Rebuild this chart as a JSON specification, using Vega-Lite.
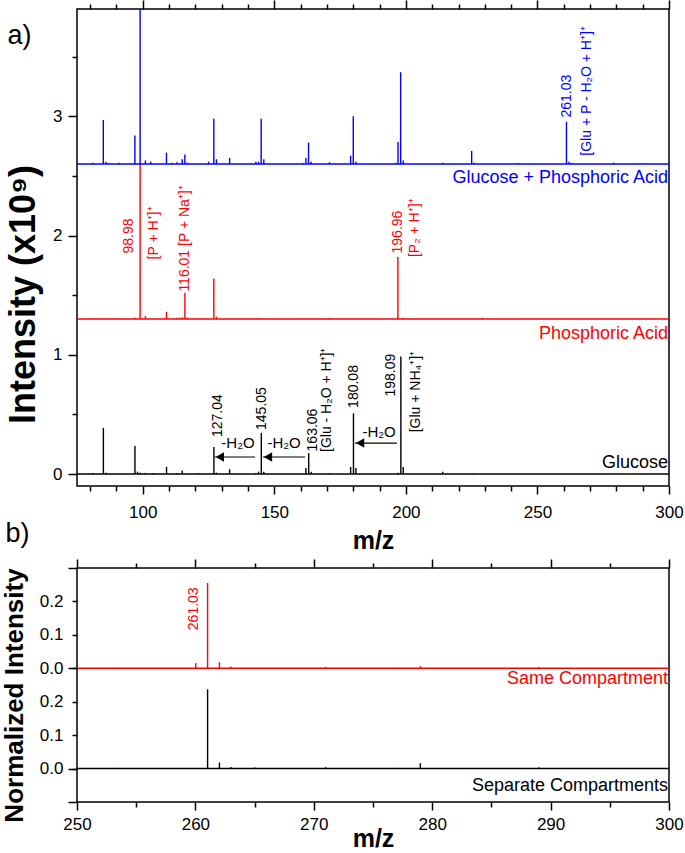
{
  "$schema": "https://vega.github.io/schema/vega-lite/v6.json",
  "padding": {"left": 0, "top": -2, "right": 5, "bottom": 0},
  "bounds": "flush",
  "spacing": 82,
  "config": {
    "font": "Liberation Sans",
    "view": {"stroke": "black", "strokeWidth": 1.5},
    "axis": {"domain": false, "grid": false, "tickColor": "black", "tickWidth": 1.5, "labelColor": "black", "labelFont": "Liberation Sans", "labelFontSize": 17, "labelFlush": false, "labelOverlap": false, "titleColor": "black", "titleFont": "Liberation Sans", "titleFontWeight": "bold"}
  },
  "datasets": {
    "peaksA": [
      {"s": "Glucose", "mz": 81, "base": 0, "top": 0.008},
      {"s": "Glucose", "mz": 85.03, "base": 0, "top": 0.387},
      {"s": "Glucose", "mz": 86, "base": 0, "top": 0.012},
      {"s": "Glucose", "mz": 97.03, "base": 0, "top": 0.235},
      {"s": "Glucose", "mz": 98, "base": 0, "top": 0.02},
      {"s": "Glucose", "mz": 99, "base": 0, "top": 0.012},
      {"s": "Glucose", "mz": 101, "base": 0, "top": 0.01},
      {"s": "Glucose", "mz": 104, "base": 0, "top": 0.008},
      {"s": "Glucose", "mz": 109.03, "base": 0, "top": 0.06},
      {"s": "Glucose", "mz": 113, "base": 0, "top": 0.008},
      {"s": "Glucose", "mz": 115, "base": 0, "top": 0.03},
      {"s": "Glucose", "mz": 121, "base": 0, "top": 0.006},
      {"s": "Glucose", "mz": 127.04, "base": 0, "top": 0.227},
      {"s": "Glucose", "mz": 128, "base": 0, "top": 0.012},
      {"s": "Glucose", "mz": 133, "base": 0, "top": 0.04},
      {"s": "Glucose", "mz": 143, "base": 0, "top": 0.01},
      {"s": "Glucose", "mz": 144, "base": 0, "top": 0.02},
      {"s": "Glucose", "mz": 145.05, "base": 0, "top": 0.345},
      {"s": "Glucose", "mz": 146, "base": 0, "top": 0.02},
      {"s": "Glucose", "mz": 162, "base": 0, "top": 0.05},
      {"s": "Glucose", "mz": 163.06, "base": 0, "top": 0.175},
      {"s": "Glucose", "mz": 164, "base": 0, "top": 0.02},
      {"s": "Glucose", "mz": 171, "base": 0, "top": 0.006},
      {"s": "Glucose", "mz": 179, "base": 0, "top": 0.06},
      {"s": "Glucose", "mz": 180.08, "base": 0, "top": 0.51},
      {"s": "Glucose", "mz": 181, "base": 0, "top": 0.05},
      {"s": "Glucose", "mz": 197, "base": 0, "top": 0.012},
      {"s": "Glucose", "mz": 198.09, "base": 0, "top": 0.985},
      {"s": "Glucose", "mz": 199, "base": 0, "top": 0.06},
      {"s": "Glucose", "mz": 214, "base": 0, "top": 0.02},
      {"s": "Glucose", "mz": 226, "base": 0, "top": 0.005},
      {"s": "Phosphoric Acid", "mz": 81, "base": 1.3, "top": 1.306},
      {"s": "Phosphoric Acid", "mz": 91, "base": 1.3, "top": 1.305},
      {"s": "Phosphoric Acid", "mz": 97, "base": 1.3, "top": 1.31},
      {"s": "Phosphoric Acid", "mz": 98.98, "base": 1.3, "top": 2.6},
      {"s": "Phosphoric Acid", "mz": 101, "base": 1.3, "top": 1.325},
      {"s": "Phosphoric Acid", "mz": 109, "base": 1.3, "top": 1.36},
      {"s": "Phosphoric Acid", "mz": 113, "base": 1.3, "top": 1.31},
      {"s": "Phosphoric Acid", "mz": 114, "base": 1.3, "top": 1.312},
      {"s": "Phosphoric Acid", "mz": 115, "base": 1.3, "top": 1.315},
      {"s": "Phosphoric Acid", "mz": 116.01, "base": 1.3, "top": 1.52},
      {"s": "Phosphoric Acid", "mz": 117, "base": 1.3, "top": 1.312},
      {"s": "Phosphoric Acid", "mz": 127, "base": 1.3, "top": 1.64},
      {"s": "Phosphoric Acid", "mz": 128, "base": 1.3, "top": 1.32},
      {"s": "Phosphoric Acid", "mz": 144, "base": 1.3, "top": 1.308},
      {"s": "Phosphoric Acid", "mz": 171, "base": 1.3, "top": 1.308},
      {"s": "Phosphoric Acid", "mz": 196.96, "base": 1.3, "top": 1.82},
      {"s": "Phosphoric Acid", "mz": 199, "base": 1.3, "top": 1.31},
      {"s": "Phosphoric Acid", "mz": 229, "base": 1.3, "top": 1.31},
      {"s": "Glucose + Phosphoric Acid", "mz": 81, "base": 2.6, "top": 2.61},
      {"s": "Glucose + Phosphoric Acid", "mz": 85, "base": 2.6, "top": 2.97},
      {"s": "Glucose + Phosphoric Acid", "mz": 86, "base": 2.6, "top": 2.62},
      {"s": "Glucose + Phosphoric Acid", "mz": 87, "base": 2.6, "top": 2.608},
      {"s": "Glucose + Phosphoric Acid", "mz": 91, "base": 2.6, "top": 2.61},
      {"s": "Glucose + Phosphoric Acid", "mz": 97, "base": 2.6, "top": 2.84},
      {"s": "Glucose + Phosphoric Acid", "mz": 98.98, "base": 2.6, "top": 4.05},
      {"s": "Glucose + Phosphoric Acid", "mz": 101, "base": 2.6, "top": 2.63},
      {"s": "Glucose + Phosphoric Acid", "mz": 103, "base": 2.6, "top": 2.62},
      {"s": "Glucose + Phosphoric Acid", "mz": 109, "base": 2.6, "top": 2.695},
      {"s": "Glucose + Phosphoric Acid", "mz": 111, "base": 2.6, "top": 2.61},
      {"s": "Glucose + Phosphoric Acid", "mz": 113, "base": 2.6, "top": 2.615},
      {"s": "Glucose + Phosphoric Acid", "mz": 115, "base": 2.6, "top": 2.64},
      {"s": "Glucose + Phosphoric Acid", "mz": 116, "base": 2.6, "top": 2.68},
      {"s": "Glucose + Phosphoric Acid", "mz": 117, "base": 2.6, "top": 2.612},
      {"s": "Glucose + Phosphoric Acid", "mz": 125, "base": 2.6, "top": 2.62},
      {"s": "Glucose + Phosphoric Acid", "mz": 127, "base": 2.6, "top": 2.98},
      {"s": "Glucose + Phosphoric Acid", "mz": 128, "base": 2.6, "top": 2.64},
      {"s": "Glucose + Phosphoric Acid", "mz": 133, "base": 2.6, "top": 2.65},
      {"s": "Glucose + Phosphoric Acid", "mz": 141, "base": 2.6, "top": 2.606},
      {"s": "Glucose + Phosphoric Acid", "mz": 143, "base": 2.6, "top": 2.62},
      {"s": "Glucose + Phosphoric Acid", "mz": 144, "base": 2.6, "top": 2.62},
      {"s": "Glucose + Phosphoric Acid", "mz": 145, "base": 2.6, "top": 2.98},
      {"s": "Glucose + Phosphoric Acid", "mz": 146, "base": 2.6, "top": 2.64},
      {"s": "Glucose + Phosphoric Acid", "mz": 161, "base": 2.6, "top": 2.608},
      {"s": "Glucose + Phosphoric Acid", "mz": 162, "base": 2.6, "top": 2.65},
      {"s": "Glucose + Phosphoric Acid", "mz": 163, "base": 2.6, "top": 2.78},
      {"s": "Glucose + Phosphoric Acid", "mz": 164, "base": 2.6, "top": 2.62},
      {"s": "Glucose + Phosphoric Acid", "mz": 171, "base": 2.6, "top": 2.615},
      {"s": "Glucose + Phosphoric Acid", "mz": 179, "base": 2.6, "top": 2.67},
      {"s": "Glucose + Phosphoric Acid", "mz": 180, "base": 2.6, "top": 3.0},
      {"s": "Glucose + Phosphoric Acid", "mz": 181, "base": 2.6, "top": 2.62},
      {"s": "Glucose + Phosphoric Acid", "mz": 196, "base": 2.6, "top": 2.61},
      {"s": "Glucose + Phosphoric Acid", "mz": 197, "base": 2.6, "top": 2.785},
      {"s": "Glucose + Phosphoric Acid", "mz": 198, "base": 2.6, "top": 3.37},
      {"s": "Glucose + Phosphoric Acid", "mz": 199, "base": 2.6, "top": 2.63},
      {"s": "Glucose + Phosphoric Acid", "mz": 214, "base": 2.6, "top": 2.61},
      {"s": "Glucose + Phosphoric Acid", "mz": 225, "base": 2.6, "top": 2.71},
      {"s": "Glucose + Phosphoric Acid", "mz": 226, "base": 2.6, "top": 2.61},
      {"s": "Glucose + Phosphoric Acid", "mz": 243, "base": 2.6, "top": 2.605},
      {"s": "Glucose + Phosphoric Acid", "mz": 261.03, "base": 2.6, "top": 2.955},
      {"s": "Glucose + Phosphoric Acid", "mz": 262, "base": 2.6, "top": 2.62},
      {"s": "Glucose + Phosphoric Acid", "mz": 263, "base": 2.6, "top": 2.608},
      {"s": "Glucose + Phosphoric Acid", "mz": 279, "base": 2.6, "top": 2.61},
      {"s": "Glucose + Phosphoric Acid", "mz": 289, "base": 2.6, "top": 2.606}
    ],
    "baseA": [
      {"s": "Glucose", "from": 75, "to": 300, "base": 0},
      {"s": "Phosphoric Acid", "from": 75, "to": 300, "base": 1.3},
      {"s": "Glucose + Phosphoric Acid", "from": 75, "to": 300, "base": 2.6}
    ],
    "ionLabelsA": [
      {"s": "Glucose + Phosphoric Acid", "mz": 261.2, "y": 2.99, "text": "261.03"},
      {"s": "Glucose + Phosphoric Acid", "mz": 269.0, "y": 2.67, "text": "[Glu + P - H₂O + H⁺]⁺"},
      {"s": "Phosphoric Acid", "mz": 94.8, "y": 1.85, "text": "98.98"},
      {"s": "Phosphoric Acid", "mz": 104.3, "y": 1.8, "text": "[P + H⁺]⁺"},
      {"s": "Phosphoric Acid", "mz": 116.0, "y": 1.53, "text": "116.01  [P + Na⁺]⁺"},
      {"s": "Phosphoric Acid", "mz": 197.0, "y": 1.85, "text": "196.96"},
      {"s": "Phosphoric Acid", "mz": 203.5, "y": 1.82, "text": "[P₂ + H⁺]⁺"},
      {"s": "Glucose", "mz": 128.4, "y": 0.31, "text": "127.04"},
      {"s": "Glucose", "mz": 145.5, "y": 0.37, "text": "145.05"},
      {"s": "Glucose", "mz": 164.7, "y": 0.19, "text": "163.06"},
      {"s": "Glucose", "mz": 170.0, "y": 0.185, "text": "[Glu - H₂O + H⁺]⁺"},
      {"s": "Glucose", "mz": 180.3, "y": 0.555, "text": "180.08"},
      {"s": "Glucose", "mz": 194.3, "y": 0.65, "text": "198.09"},
      {"s": "Glucose", "mz": 203.8, "y": 0.35, "text": "[Glu + NH₄⁺]⁺"}
    ],
    "lossA": [
      {"mz": 136.2, "y": 0.22, "text": "-H₂O"},
      {"mz": 153.7, "y": 0.22, "text": "-H₂O"},
      {"mz": 189.8, "y": 0.31, "text": "-H₂O"}
    ],
    "arrowsA": [
      {"from": 142.7, "to": 127.4, "y": 0.143},
      {"from": 161.7, "to": 145.7, "y": 0.143},
      {"from": 196.6, "to": 180.7, "y": 0.26}
    ],
    "seriesA": [
      {"s": "Glucose + Phosphoric Acid", "x": 300, "y": 2.437},
      {"s": "Phosphoric Acid", "x": 300, "y": 1.134},
      {"s": "Glucose", "x": 300, "y": 0.053}
    ],
    "peaksB": [
      {"s": "Same Compartment", "mz": 253, "base": 0.3, "top": 0.302},
      {"s": "Same Compartment", "mz": 260.03, "base": 0.3, "top": 0.315},
      {"s": "Same Compartment", "mz": 261.03, "base": 0.3, "top": 0.555},
      {"s": "Same Compartment", "mz": 262.03, "base": 0.3, "top": 0.318},
      {"s": "Same Compartment", "mz": 263, "base": 0.3, "top": 0.305},
      {"s": "Same Compartment", "mz": 271, "base": 0.3, "top": 0.304},
      {"s": "Same Compartment", "mz": 277, "base": 0.3, "top": 0.302},
      {"s": "Same Compartment", "mz": 279, "base": 0.3, "top": 0.306},
      {"s": "Same Compartment", "mz": 289, "base": 0.3, "top": 0.304},
      {"s": "Separate Compartments", "mz": 253, "base": 0, "top": 0.002},
      {"s": "Separate Compartments", "mz": 261.03, "base": 0, "top": 0.237},
      {"s": "Separate Compartments", "mz": 262.03, "base": 0, "top": 0.018},
      {"s": "Separate Compartments", "mz": 263, "base": 0, "top": 0.005},
      {"s": "Separate Compartments", "mz": 265, "base": 0, "top": 0.003},
      {"s": "Separate Compartments", "mz": 271, "base": 0, "top": 0.004},
      {"s": "Separate Compartments", "mz": 277, "base": 0, "top": 0.002},
      {"s": "Separate Compartments", "mz": 279, "base": 0, "top": 0.016},
      {"s": "Separate Compartments", "mz": 289, "base": 0, "top": 0.004}
    ],
    "baseB": [
      {"s": "Same Compartment", "from": 250, "to": 300, "base": 0.3},
      {"s": "Separate Compartments", "from": 250, "to": 300, "base": 0}
    ],
    "ionLabelsB": [
      {"s": "Same Compartment", "mz": 259.9, "y": 0.414, "text": "261.03"}
    ],
    "seriesB": [
      {"s": "Same Compartment", "x": 300, "y": 0.252},
      {"s": "Separate Compartments", "x": 300, "y": -0.066}
    ]
  },
  "vconcat": [
    {
      "width": 592,
      "height": 477,
      "resolve": {"scale": {"x": "independent", "y": "independent"}},
      "layer": [
        {
          "data": {"name": "peaksA"},
          "mark": {"type": "rule", "strokeWidth": 1.4, "clip": true},
          "encoding": {
            "x": {"field": "mz", "type": "quantitative", "scale": {"domain": [75, 300], "nice": false, "zero": false},
                  "axis": {"orient": "bottom", "values": [100, 150, 200, 250, 300], "tickSize": 8, "labelPadding": 10, "title": "m/z", "titleFontSize": 25, "titleY": 62, "titleBaseline": "alphabetic"}},
            "y": {"field": "base", "type": "quantitative", "scale": {"domain": [-0.1, 3.9], "nice": false, "zero": false},
                  "axis": {"orient": "left", "values": [0, 1, 2, 3], "tickSize": 9, "labelPadding": 6, "title": "Intensity (x10⁹)", "titleFontSize": 36, "titleX": -54, "titleY": 285, "titleBaseline": "middle"}},
            "y2": {"field": "top"},
            "color": {"field": "s", "type": "nominal", "legend": null,
                      "scale": {"domain": ["Glucose", "Phosphoric Acid", "Glucose + Phosphoric Acid", "Separate Compartments", "Same Compartment"], "range": ["#000000", "#ff0000", "#0000ff", "#000000", "#ff0000"]}}
          }
        },
        {
          "data": {"name": "baseA"},
          "mark": {"type": "rule", "strokeWidth": 1.5},
          "encoding": {
            "x": {"field": "from", "type": "quantitative", "scale": {"domain": [75, 300], "nice": false, "zero": false}, "axis": null},
            "x2": {"field": "to"},
            "y": {"field": "base", "type": "quantitative", "scale": {"domain": [-0.1, 3.9], "nice": false, "zero": false}, "axis": null},
            "color": {"field": "s", "type": "nominal", "legend": null,
                      "scale": {"domain": ["Glucose", "Phosphoric Acid", "Glucose + Phosphoric Acid", "Separate Compartments", "Same Compartment"], "range": ["#000000", "#ff0000", "#0000ff", "#000000", "#ff0000"]}}
          }
        },
        {
          "data": {"name": "baseA"},
          "mark": {"type": "point", "opacity": 0},
          "encoding": {
            "x": {"field": "from", "type": "quantitative", "scale": {"domain": [75, 300], "nice": false, "zero": false},
                  "axis": {"orient": "bottom", "values": [80, 90, 110, 120, 130, 140, 160, 170, 180, 190, 210, 220, 230, 240, 260, 270, 280, 290], "tickSize": 5, "labels": false, "title": null}},
            "y": {"field": "base", "type": "quantitative", "scale": {"domain": [-0.1, 3.9], "nice": false, "zero": false},
                  "axis": {"orient": "left", "values": [0.5, 1.5, 2.5, 3.5], "tickSize": 5, "labels": false, "title": "a)", "titleAngle": 0, "titleAlign": "left", "titleBaseline": "alphabetic", "titleX": -70, "titleY": 34, "titleFontSize": 27, "titleFontWeight": "normal"}}
          }
        },
        {
          "data": {"name": "baseA"},
          "mark": {"type": "point", "opacity": 0},
          "encoding": {
            "x": {"field": "from", "type": "quantitative", "scale": {"domain": [75, 300], "nice": false, "zero": false},
                  "axis": {"orient": "top", "values": [100, 150, 200, 250, 300], "tickSize": 9, "labels": false, "title": null}},
            "y": {"field": "base", "type": "quantitative", "scale": {"domain": [-0.1, 3.9], "nice": false, "zero": false}, "axis": null}
          }
        },
        {
          "data": {"name": "baseA"},
          "mark": {"type": "point", "opacity": 0},
          "encoding": {
            "x": {"field": "from", "type": "quantitative", "scale": {"domain": [75, 300], "nice": false, "zero": false},
                  "axis": {"orient": "top", "values": [80, 90, 110, 120, 130, 140, 160, 170, 180, 190, 210, 220, 230, 240, 260, 270, 280, 290], "tickSize": 5, "labels": false, "title": null}},
            "y": {"field": "base", "type": "quantitative", "scale": {"domain": [-0.1, 3.9], "nice": false, "zero": false}, "axis": null}
          }
        },
        {
          "data": {"name": "ionLabelsA"},
          "mark": {"type": "text", "angle": 270, "align": "left", "baseline": "middle", "fontSize": 14},
          "encoding": {
            "x": {"field": "mz", "type": "quantitative", "scale": {"domain": [75, 300], "nice": false, "zero": false}, "axis": null},
            "y": {"field": "y", "type": "quantitative", "scale": {"domain": [-0.1, 3.9], "nice": false, "zero": false}, "axis": null},
            "text": {"field": "text"},
            "color": {"field": "s", "type": "nominal", "legend": null,
                      "scale": {"domain": ["Glucose", "Phosphoric Acid", "Glucose + Phosphoric Acid", "Separate Compartments", "Same Compartment"], "range": ["#000000", "#ff0000", "#0000ff", "#000000", "#ff0000"]}}
          }
        },
        {
          "data": {"name": "lossA"},
          "mark": {"type": "text", "align": "center", "baseline": "alphabetic", "fontSize": 15, "color": "black"},
          "encoding": {
            "x": {"field": "mz", "type": "quantitative", "scale": {"domain": [75, 300], "nice": false, "zero": false}, "axis": null},
            "y": {"field": "y", "type": "quantitative", "scale": {"domain": [-0.1, 3.9], "nice": false, "zero": false}, "axis": null},
            "text": {"field": "text"}
          }
        },
        {
          "data": {"name": "arrowsA"},
          "mark": {"type": "rule", "strokeWidth": 1.2, "color": "black"},
          "encoding": {
            "x": {"field": "from", "type": "quantitative", "scale": {"domain": [75, 300], "nice": false, "zero": false}, "axis": null},
            "x2": {"field": "to"},
            "y": {"field": "y", "type": "quantitative", "scale": {"domain": [-0.1, 3.9], "nice": false, "zero": false}, "axis": null}
          }
        },
        {
          "data": {"name": "arrowsA"},
          "mark": {"type": "point", "shape": "triangle-left", "filled": true, "size": 90, "color": "black", "opacity": 1, "xOffset": 5},
          "encoding": {
            "x": {"field": "to", "type": "quantitative", "scale": {"domain": [75, 300], "nice": false, "zero": false}, "axis": null},
            "y": {"field": "y", "type": "quantitative", "scale": {"domain": [-0.1, 3.9], "nice": false, "zero": false}, "axis": null}
          }
        },
        {
          "data": {"name": "seriesA"},
          "mark": {"type": "text", "align": "right", "baseline": "alphabetic", "fontSize": 18, "dx": -1},
          "encoding": {
            "x": {"field": "x", "type": "quantitative", "scale": {"domain": [75, 300], "nice": false, "zero": false}, "axis": null},
            "y": {"field": "y", "type": "quantitative", "scale": {"domain": [-0.1, 3.9], "nice": false, "zero": false}, "axis": null},
            "text": {"field": "s"},
            "color": {"field": "s", "type": "nominal", "legend": null,
                      "scale": {"domain": ["Glucose", "Phosphoric Acid", "Glucose + Phosphoric Acid", "Separate Compartments", "Same Compartment"], "range": ["#000000", "#ff0000", "#0000ff", "#000000", "#ff0000"]}}
          }
        }
      ]
    },
    {
      "width": 592,
      "height": 234,
      "resolve": {"scale": {"x": "independent", "y": "independent"}},
      "layer": [
        {
          "data": {"name": "peaksB"},
          "mark": {"type": "rule", "strokeWidth": 1.4, "clip": true},
          "encoding": {
            "x": {"field": "mz", "type": "quantitative", "scale": {"domain": [250, 300], "nice": false, "zero": false},
                  "axis": {"orient": "bottom", "values": [250, 260, 270, 280, 290, 300], "tickSize": 8, "labelPadding": 6, "title": "m/z", "titleFontSize": 25, "titleY": 44, "titleBaseline": "alphabetic"}},
            "y": {"field": "base", "type": "quantitative", "scale": {"domain": [-0.1, 0.6], "nice": false, "zero": false},
                  "axis": {"orient": "left", "values": [0, 0.1, 0.2, 0.3, 0.4, 0.5], "tickSize": 5, "labelPadding": 9, "labelExpr": "format(datum.value > 0.25 ? datum.value - 0.3 : datum.value, '.1f')", "title": "Normalized Intensity", "titleFontSize": 26, "titleX": -63, "titleY": 127, "titleBaseline": "middle"}},
            "y2": {"field": "top"},
            "color": {"field": "s", "type": "nominal", "legend": null,
                      "scale": {"domain": ["Glucose", "Phosphoric Acid", "Glucose + Phosphoric Acid", "Separate Compartments", "Same Compartment"], "range": ["#000000", "#ff0000", "#0000ff", "#000000", "#ff0000"]}}
          }
        },
        {
          "data": {"name": "baseB"},
          "mark": {"type": "rule", "strokeWidth": 1.5},
          "encoding": {
            "x": {"field": "from", "type": "quantitative", "scale": {"domain": [250, 300], "nice": false, "zero": false}, "axis": null},
            "x2": {"field": "to"},
            "y": {"field": "base", "type": "quantitative", "scale": {"domain": [-0.1, 0.6], "nice": false, "zero": false}, "axis": null},
            "color": {"field": "s", "type": "nominal", "legend": null,
                      "scale": {"domain": ["Glucose", "Phosphoric Acid", "Glucose + Phosphoric Acid", "Separate Compartments", "Same Compartment"], "range": ["#000000", "#ff0000", "#0000ff", "#000000", "#ff0000"]}}
          }
        },
        {
          "data": {"name": "baseB"},
          "mark": {"type": "point", "opacity": 0},
          "encoding": {
            "x": {"field": "from", "type": "quantitative", "scale": {"domain": [250, 300], "nice": false, "zero": false},
                  "axis": {"orient": "bottom", "values": [255, 265, 275, 285, 295], "tickSize": 5, "labels": false, "title": null}},
            "y": {"field": "base", "type": "quantitative", "scale": {"domain": [-0.1, 0.6], "nice": false, "zero": false},
                  "axis": {"orient": "left", "values": [-0.1, 0, 0.3, 0.6], "tickSize": 9, "labels": false, "title": "b)", "titleAngle": 0, "titleAlign": "left", "titleBaseline": "alphabetic", "titleX": -72, "titleY": -27, "titleFontSize": 27, "titleFontWeight": "normal"}}
          }
        },
        {
          "data": {"name": "baseB"},
          "mark": {"type": "point", "opacity": 0},
          "encoding": {
            "x": {"field": "from", "type": "quantitative", "scale": {"domain": [250, 300], "nice": false, "zero": false},
                  "axis": {"orient": "top", "values": [250, 260, 270, 280, 290, 300], "tickSize": 9, "labels": false, "title": null}},
            "y": {"field": "base", "type": "quantitative", "scale": {"domain": [-0.1, 0.6], "nice": false, "zero": false}, "axis": null}
          }
        },
        {
          "data": {"name": "baseB"},
          "mark": {"type": "point", "opacity": 0},
          "encoding": {
            "x": {"field": "from", "type": "quantitative", "scale": {"domain": [250, 300], "nice": false, "zero": false},
                  "axis": {"orient": "top", "values": [255, 265, 275, 285, 295], "tickSize": 5, "labels": false, "title": null}},
            "y": {"field": "base", "type": "quantitative", "scale": {"domain": [-0.1, 0.6], "nice": false, "zero": false}, "axis": null}
          }
        },
        {
          "data": {"name": "ionLabelsB"},
          "mark": {"type": "text", "angle": 270, "align": "left", "baseline": "middle", "fontSize": 14},
          "encoding": {
            "x": {"field": "mz", "type": "quantitative", "scale": {"domain": [250, 300], "nice": false, "zero": false}, "axis": null},
            "y": {"field": "y", "type": "quantitative", "scale": {"domain": [-0.1, 0.6], "nice": false, "zero": false}, "axis": null},
            "text": {"field": "text"},
            "color": {"field": "s", "type": "nominal", "legend": null,
                      "scale": {"domain": ["Glucose", "Phosphoric Acid", "Glucose + Phosphoric Acid", "Separate Compartments", "Same Compartment"], "range": ["#000000", "#ff0000", "#0000ff", "#000000", "#ff0000"]}}
          }
        },
        {
          "data": {"name": "seriesB"},
          "mark": {"type": "text", "align": "right", "baseline": "alphabetic", "fontSize": 18, "dx": -1},
          "encoding": {
            "x": {"field": "x", "type": "quantitative", "scale": {"domain": [250, 300], "nice": false, "zero": false}, "axis": null},
            "y": {"field": "y", "type": "quantitative", "scale": {"domain": [-0.1, 0.6], "nice": false, "zero": false}, "axis": null},
            "text": {"field": "s"},
            "color": {"field": "s", "type": "nominal", "legend": null,
                      "scale": {"domain": ["Glucose", "Phosphoric Acid", "Glucose + Phosphoric Acid", "Separate Compartments", "Same Compartment"], "range": ["#000000", "#ff0000", "#0000ff", "#000000", "#ff0000"]}}
          }
        }
      ]
    }
  ]
}
